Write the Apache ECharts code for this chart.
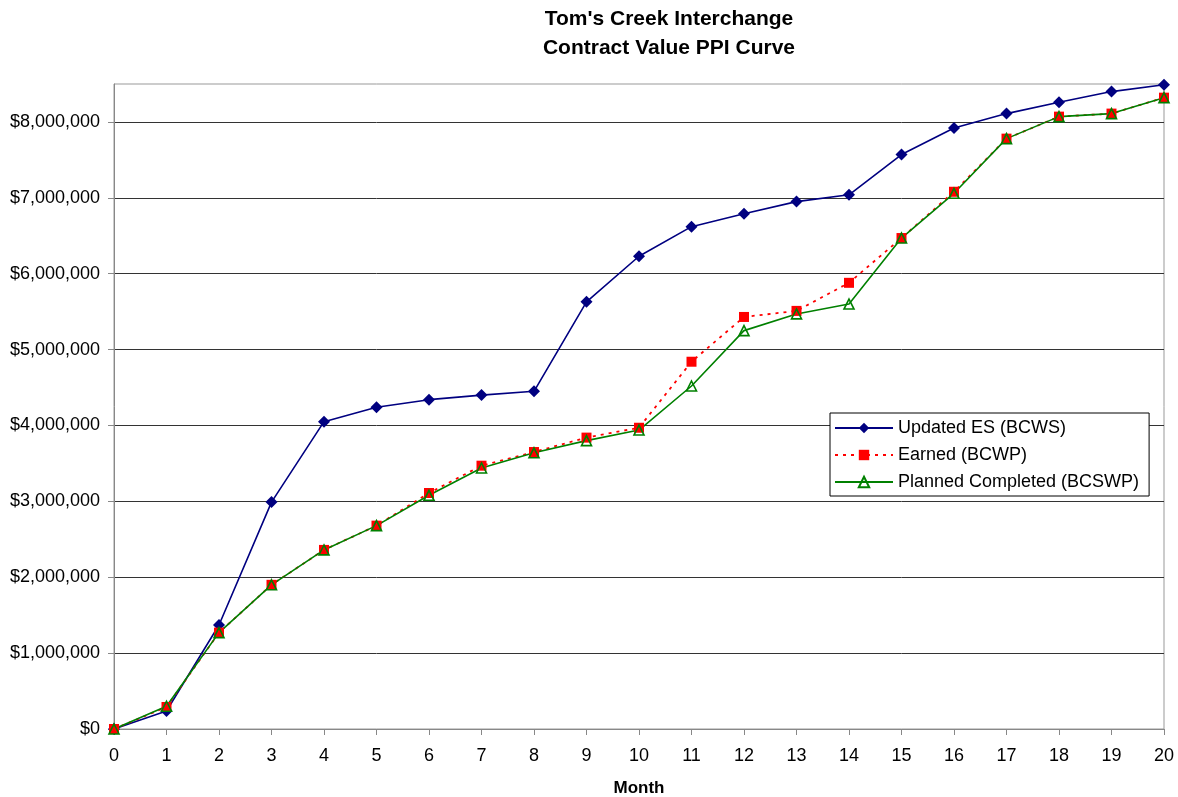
<!DOCTYPE html>
<html><head><meta charset="utf-8">
<script src="https://cdn.jsdelivr.net/npm/echarts@6/dist/echarts.min.js"></script>
<style>html,body{margin:0;padding:0;background:#fff}#c{width:1178px;height:797px}</style>
</head><body><div id="c"></div>
<script>
const months = [0,1,2,3,4,5,6,7,8,9,10,11,12,13,14,15,16,17,18,19,20];
const bcws = [0,237000,1370000,2990000,4050000,4240000,4340000,4400000,4450000,5630000,6230000,6620000,6790000,6950000,7040000,7570000,7920000,8110000,8260000,8400000,8490000];
const bcwp = [0,290000,1270000,1900000,2360000,2680000,3110000,3470000,3650000,3840000,3970000,4840000,5430000,5510000,5880000,6470000,7080000,7780000,8070000,8110000,8320000];
const bcswp = [0,300000,1270000,1900000,2360000,2680000,3080000,3440000,3640000,3800000,3940000,4520000,5250000,5470000,5600000,6470000,7060000,7780000,8070000,8110000,8320000];
const yTicks = [0,1000000,2000000,3000000,4000000,5000000,6000000,7000000,8000000];
const seriesNames = ['Updated ES (BCWS)','Earned (BCWP)','Planned Completed (BCSWP)'];
const titleLines = ["Tom's Creek Interchange","Contract Value PPI Curve"];

const pair = arr => months.map((m,i)=>[m,arr[i]]);
const font = '"Liberation Sans", Arial, sans-serif';
const chart = echarts.init(document.getElementById('c'));
chart.setOption({
  animation:false,
  backgroundColor:'#fff',
  title:{text:titleLines.join('\n'),left:664,top:0,textAlign:'center',
    textStyle:{fontFamily:font,fontWeight:'bold',fontSize:21,color:'#000',lineHeight:29}},
  grid:{left:114,right:14,top:84,bottom:68,show:true,borderColor:'#999',borderWidth:1,
    containLabel:false,outerBoundsMode:'none'},
  legend:{orient:'vertical',left:830,top:413,
    backgroundColor:'#fff',borderColor:'#000',borderWidth:1,padding:[6,10,5,4],
    itemGap:9,itemWidth:58,itemHeight:13,
    textStyle:{fontFamily:font,fontSize:18,color:'#000'},
    data:seriesNames},
  xAxis:{type:'value',min:0,max:20,interval:1,name:'Month',nameLocation:'middle',nameGap:51,
    nameTextStyle:{fontFamily:font,fontWeight:'bold',fontSize:17,color:'#000'},
    axisLine:{lineStyle:{color:'#888',width:1}},
    axisTick:{show:true,length:6,lineStyle:{color:'#888'}},
    axisLabel:{fontFamily:font,fontSize:18,color:'#000',margin:18},
    splitLine:{show:false}},
  yAxis:{type:'value',min:0,max:8500000,interval:1000000,
    axisLine:{show:true,lineStyle:{color:'#888',width:1}},
    axisTick:{show:true,length:6,lineStyle:{color:'#888'},customValues:yTicks},
    axisLabel:{fontFamily:font,fontSize:18,color:'#000',margin:14,customValues:yTicks,
      formatter:v=> '$'+Number(v).toLocaleString('en-US')},
    splitLine:{show:true,lineStyle:{color:'#333',width:1}}},
  series:[
    {name:seriesNames[0],type:'line',data:pair(bcws),symbol:'diamond',symbolSize:12,
      lineStyle:{color:'#000080',width:1.6},itemStyle:{color:'#000080'}},
    {name:seriesNames[1],type:'line',data:pair(bcwp),symbol:'rect',symbolSize:10,
      lineStyle:{color:'#ff0000',width:1.8,type:[3,5]},itemStyle:{color:'#ff0000'}},
    {name:seriesNames[2],type:'line',data:pair(bcswp),symbol:'triangle',symbolSize:10,
      lineStyle:{color:'#008000',width:1.6},itemStyle:{color:'none',borderColor:'#008000',borderWidth:1.6}}
  ]
});
</script></body></html>
